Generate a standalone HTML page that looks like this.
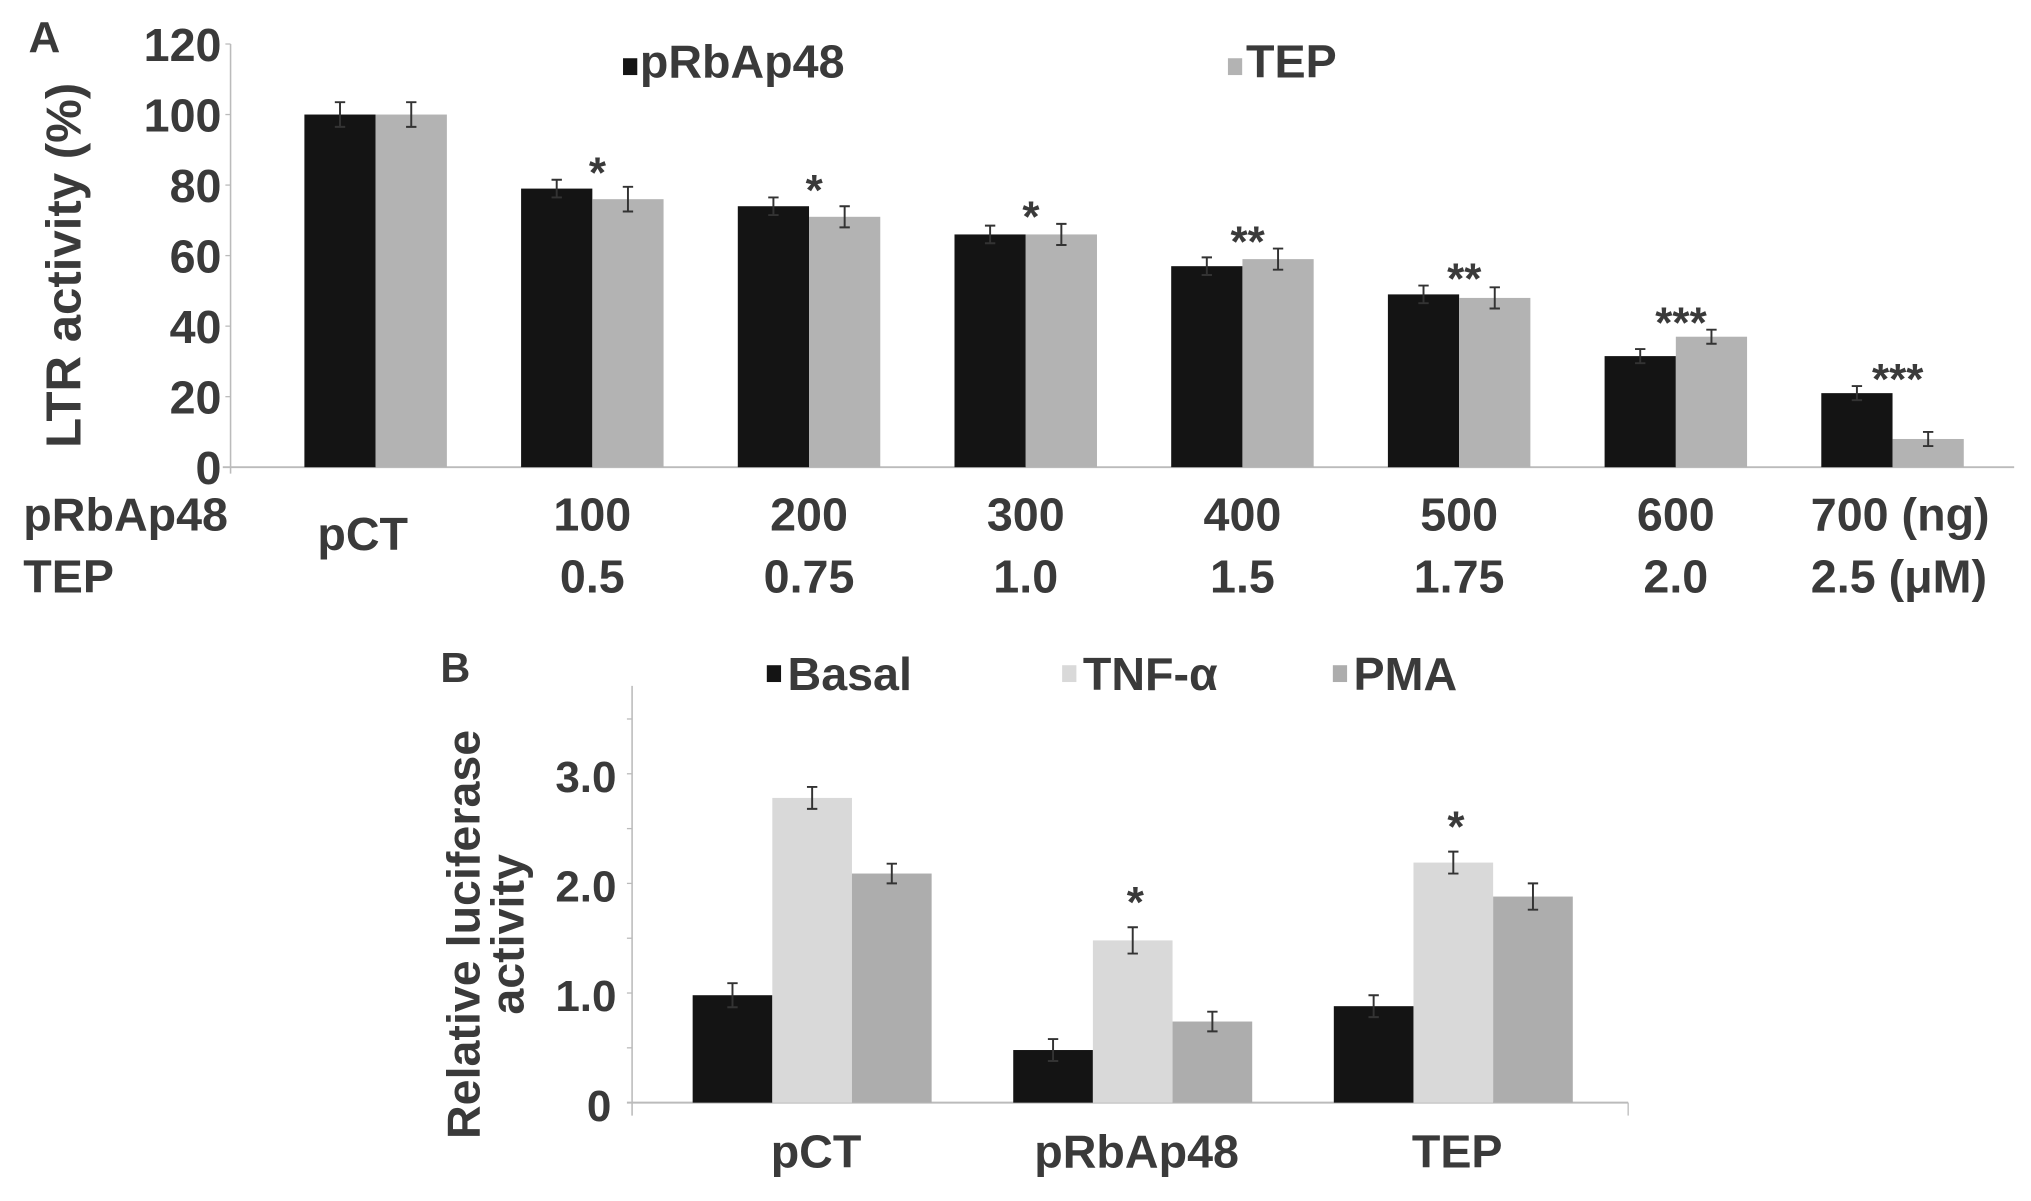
<!DOCTYPE html>
<html><head><meta charset="utf-8"><style>
html,body{margin:0;padding:0;background:#fff;}
svg{display:block;}
text{font-family:"Liberation Sans","DejaVu Sans",sans-serif;font-weight:bold;fill:#3a3a3a;}
</style></head><body>
<svg id="fig" width="2031" height="1201" viewBox="0 0 1568 928" preserveAspectRatio="none" xmlns="http://www.w3.org/2000/svg">
<g id="pa"></g>
<g id="pb"></g>
</svg>
<script>
// Panel A data
const catsA = ["pCT","100","200","300","400","500","600","700 (ng)"];
const catsA2 = ["","0.5","0.75","1.0","1.5","1.75","2.0","2.5 (μM)"];
const rbValues = [100,79,74,66,57,49,31.5,21];
const rbErr = [3.5,2.5,2.5,2.5,2.5,2.5,2,2];
const tepValues = [100,76,71,66,59,48,37,8];
const tepErr = [3.5,3.5,3,3,3,3,2,2];
const starsA = ["","*","*","*","**","**","***","***"];
const ticksA = [0,20,40,60,80,100,120];
// Panel B data
const catsB = ["pCT","pRbAp48","TEP"];
const basalValues = [0.98,0.48,0.88];
const basalErr = [0.11,0.1,0.1];
const tnfValues = [2.78,1.48,2.19];
const tnfErr = [0.1,0.12,0.1];
const pmaValues = [2.09,0.74,1.88];
const pmaErr = [0.09,0.09,0.12];
const starsB = ["","*","*"];
const ticksB = [0,1,2,3];
const ticksBLabels = ["0","1.0","2.0","3.0"];

const NS="http://www.w3.org/2000/svg";
function mk(parent,tag,attrs,txt){const e=document.createElementNS(NS,tag);for(const k in attrs)e.setAttribute(k,attrs[k]);if(txt!==undefined)e.textContent=txt;parent.appendChild(e);return e;}

// ---- Panel A ----
const pa=document.getElementById('pa');
const yA=v=>361-v*(327/120);
const xA=i=>290+i*167.3;
const bwA=55;
let e;
e=mk(pa,'line',{x1:178,y1:34,x2:178,y2:366,stroke:'#bbb','stroke-width':1.2});


e=mk(pa,'line',{x1:172,y1:361,x2:1555,y2:361,stroke:'#bbb','stroke-width':1.5});


ticksA.forEach(t=>{
  e=mk(pa,'text',{x:171,y:yA(t)+13,'text-anchor':'end','font-size':36},String(t));
  
  
  mk(pa,'line',{x1:174,y1:yA(t),x2:178,y2:yA(t),stroke:'#bbb'});
});
function bar(g,x,w,v,err,yf,fill,name){
  e=mk(g,'rect',{x:x,y:yf(v),width:w,height:yf(0)-yf(v),fill:fill});
  
  
  const cx=x+w/2;
  e=mk(g,'path',{d:`M${cx},${yf(v+err)}V${yf(v-err)}M${cx-4},${yf(v+err)}H${cx+4}M${cx-4},${yf(v-err)}H${cx+4}`,stroke:'#333','stroke-width':1.5,fill:'none'});
  
  
}
catsA.forEach((c,i)=>{
  const cx=xA(i);
  bar(pa,cx-bwA,bwA,rbValues[i],rbErr[i],yA,'#141414','bar-prbap48');
  bar(pa,cx,bwA,tepValues[i],tepErr[i],yA,'#b3b3b3','bar-tep');
  if(starsA[i]){
    e=mk(pa,'text',{x:cx+4,y:yA(Math.max(rbValues[i]+rbErr[i],tepValues[i]+tepErr[i]))+6,'text-anchor':'middle','font-size':34,'font-weight':'normal'},starsA[i]);
    
    
  }
  if(i===0){
    e=mk(pa,'text',{x:280,y:425,'text-anchor':'middle','font-size':36},c);
  } else {
    e=mk(pa,'text',{x:i===7?1398:cx,y:410,'text-anchor':i===7?'start':'middle','font-size':36},c);
  }
  
  
  if(catsA2[i]){
    e=mk(pa,'text',{x:i===7?1398:cx,y:458,'text-anchor':i===7?'start':'middle','font-size':36},catsA2[i]);
    
    
  }
});
e=mk(pa,'text',{x:18,y:410,'font-size':36},'pRbAp48');


e=mk(pa,'text',{x:18,y:458,'font-size':36},'TEP');


e=mk(pa,'text',{x:22,y:40,'font-size':34},'A');


e=mk(pa,'text',{x:0,y:0,'font-size':38,'text-anchor':'middle',transform:'translate(62,205) rotate(-90)'},'LTR activity (%)');


e=mk(pa,'rect',{x:481,y:45,width:11,height:13,fill:'#141414'});


e=mk(pa,'text',{x:494,y:60,'font-size':36},'pRbAp48');


e=mk(pa,'rect',{x:948,y:45,width:11,height:13,fill:'#b3b3b3'});


e=mk(pa,'text',{x:962,y:60,'font-size':36},'TEP');



// ---- Panel B ----
const pb=document.getElementById('pb');
const yB=v=>852-v*84.7;
const xB=i=>627+i*247.5;
const bwB=61.5;
e=mk(pb,'line',{x1:488,y1:530,x2:488,y2:862,stroke:'#bbb','stroke-width':1.2});


e=mk(pb,'line',{x1:484,y1:852,x2:1257,y2:852,stroke:'#bbb','stroke-width':1.5});


mk(pb,'line',{x1:1257,y1:852,x2:1257,y2:862,stroke:'#bbb'});
[0.5,1,1.5,2,2.5,3,3.5].forEach(t=>mk(pb,'line',{x1:484,y1:yB(t),x2:488,y2:yB(t),stroke:'#bbb'}));
ticksB.forEach((t,i)=>{
  e=mk(pb,'text',{x:t===0?472:476,y:yB(t)+14,'text-anchor':'end','font-size':34},ticksBLabels[i]);
  
  
});
catsB.forEach((c,i)=>{
  const cx=xB(i);
  bar(pb,cx-1.5*bwB,bwB,basalValues[i],basalErr[i],yB,'#141414','bar-basal');
  bar(pb,cx-0.5*bwB,bwB,tnfValues[i],tnfErr[i],yB,'#d9d9d9','bar-tnf');
  bar(pb,cx+0.5*bwB,bwB,pmaValues[i],pmaErr[i],yB,'#adadad','bar-pma');
  if(starsB[i]){
    e=mk(pb,'text',{x:cx+2,y:yB(tnfValues[i]+tnfErr[i])-8,'text-anchor':'middle','font-size':34,'font-weight':'normal'},starsB[i]);
    
    
  }
  e=mk(pb,'text',{x:cx+3,y:902,'text-anchor':'middle','font-size':36},c);
  
  
});
e=mk(pb,'text',{x:340,y:527,'font-size':32},'B');


e=mk(pb,'text',{x:0,y:0,'font-size':36,'text-anchor':'middle',transform:'translate(370,722) rotate(-90)'},'Relative luciferase');


e=mk(pb,'text',{x:0,y:0,'font-size':36,'text-anchor':'middle',transform:'translate(404,722) rotate(-90)'},'activity');


[[592,'#141414','Basal','basal'],[820,'#d9d9d9','TNF-α','tnf'],[1029,'#adadad','PMA','pma']].forEach(l=>{
  e=mk(pb,'rect',{x:l[0],y:514,width:11,height:13,fill:l[1]});
  
  
  e=mk(pb,'text',{x:l[0]+16,y:533,'font-size':36},l[2]);
  
  
});
</script>
</body></html>
